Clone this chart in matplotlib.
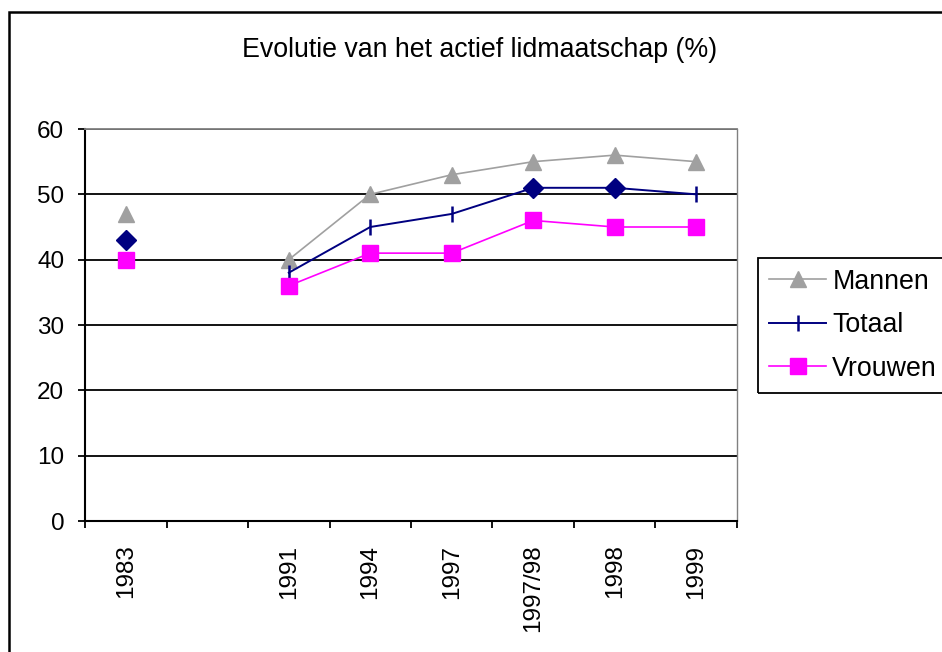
import numpy as np
import matplotlib
matplotlib.use("Agg")
import matplotlib.pyplot as plt
import matplotlib.patches as patches
from matplotlib.lines import Line2D

plt.rcParams['font.family'] = ['Liberation Sans', 'DejaVu Sans']

#Data
categories = ["1983", "", "1991", "1994", "1997", "1997/98", "1998", "1999"]
mannen = [47, np.nan, 40, 50, 53, 55, 56, 55]
totaal = [43, np.nan, 38, 45, 47, 51, 51, 50]
vrouwen = [40, np.nan, 36, 41, 41, 46, 45, 45]
#points of Totaal drawn with a diamond instead of a dash
totaal_diamond = [0, 5, 6]
title = "Evolutie van het actief lidmaatschap (%)"

#Colors
c_man = "#A0A0A0"
c_tot = "#000080"
c_vrouw = "#FF00FF"

W, H = 942, 652
fig = plt.figure(figsize=(W/100., H/100.), dpi=100)
fs = 17.5     #tick labels
fs_big = 19.3 #title and legend
lw = 1.2

#Outer chart border (cut off at right and bottom)
fig.patches.append(patches.Rectangle((9./W, -0.1), 1.2, 1 - 12./H + 0.1, transform=fig.transFigure,
                                     fill=False, edgecolor="black", linewidth=1.8))
#Legend box (cut off at right)
fig.patches.append(patches.Rectangle((758./W, (H-393.)/H), 0.5, (393.-258.)/H, transform=fig.transFigure,
                                     fill=False, edgecolor="black", linewidth=1.3))

ax = fig.add_axes([85./W, (H-521.)/H, (737.-85.)/W, (521.-129.)/H])
x = np.arange(len(categories))

ax.plot(x, mannen, '-', color=c_man, linewidth=lw, marker='^', markersize=11,
        markerfacecolor=c_man, markeredgecolor=c_man, zorder=3)
dash_idx = [i for i in range(len(x)) if i not in totaal_diamond]
ax.plot(x, totaal, '-', color=c_tot, linewidth=1.4, marker='|', markersize=12,
        markeredgewidth=1.8, markevery=dash_idx, zorder=3)
ax.plot(x[totaal_diamond], np.array(totaal)[totaal_diamond], linestyle='none', marker='D',
        markersize=10, color=c_tot, zorder=4)
ax.plot(x, vrouwen, '-', color=c_vrouw, linewidth=lw, marker='s', markersize=11,
        markerfacecolor=c_vrouw, markeredgecolor=c_vrouw, zorder=3)

ax.set_xlim(-0.5, len(categories) - 0.5)
ax.set_ylim(0, 60)
ax.set_yticks(np.arange(0, 61, 10))
ax.yaxis.grid(True, color="black", linewidth=1.3)
ax.set_axisbelow(True)

ax.set_xticks(x)
ax.set_xticklabels(categories, rotation=90, fontsize=fs)
ax.set_xticks(np.arange(-0.5, len(categories)), minor=True)
ax.tick_params(axis='x', which='major', length=0, pad=17)
ax.tick_params(axis='x', which='minor', length=5, width=1.3, direction='out')
ax.tick_params(axis='y', length=5, width=1.3, direction='out', labelsize=fs, pad=10)

ax.spines['left'].set_linewidth(1.5)
ax.spines['bottom'].set_linewidth(1.5)
ax.spines['top'].set_color("#808080")
ax.spines['right'].set_color("#808080")
ax.spines['top'].set_linewidth(1.3)
ax.spines['right'].set_linewidth(1.0)

fig.text(480./W, 1 - 50./H, title, ha='center', va='center', fontsize=fs_big)

#Legend
handles = [
    Line2D([], [], color=c_man, linewidth=lw, marker='^', markersize=11, markeredgecolor=c_man),
    Line2D([], [], color=c_tot, linewidth=1.4, marker='|', markersize=12, markeredgewidth=1.8),
    Line2D([], [], color=c_vrouw, linewidth=lw, marker='s', markersize=11, markeredgecolor=c_vrouw),
]
leg = fig.legend(handles, ["Mannen", "Totaal", "Vrouwen"], loc='upper left',
                 bbox_to_anchor=(758./W, 1 - 258./H), fontsize=fs_big, frameon=False,
                 handlelength=2.15, handletextpad=0.22,
                 labelspacing=0.65, borderpad=0.4, borderaxespad=0)

fig.savefig("out.png", dpi=100)
